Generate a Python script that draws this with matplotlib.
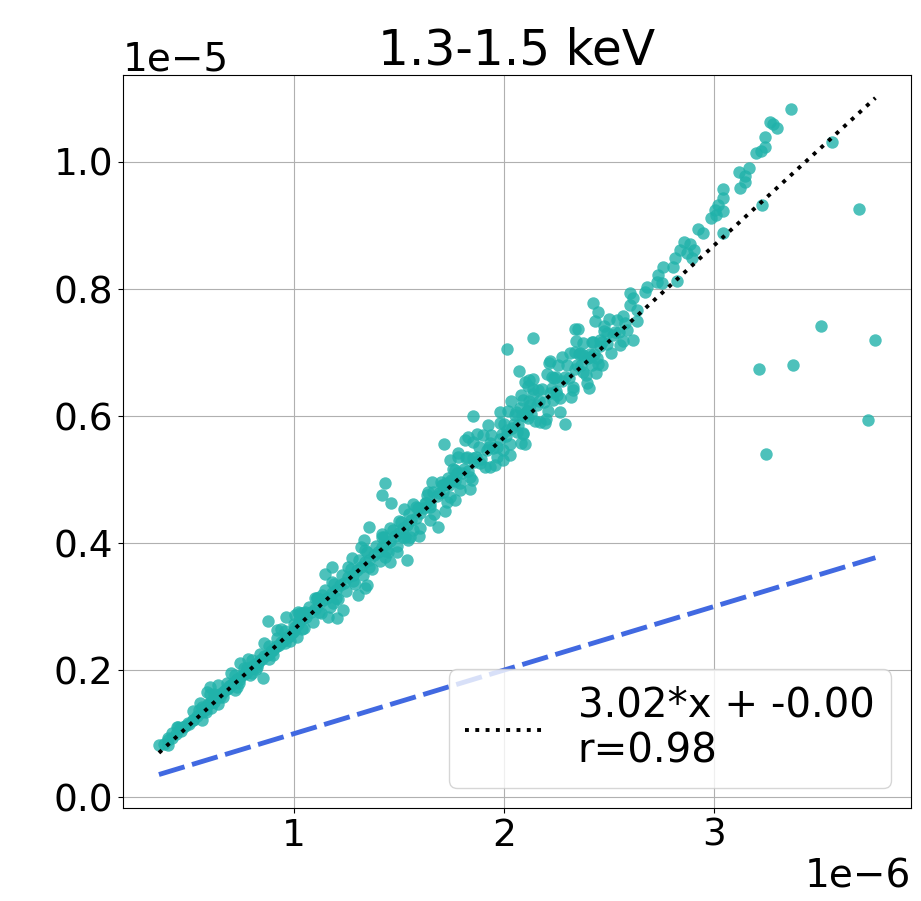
import matplotlib.pyplot as plt
import numpy as np

# values in units of 1e-6 (x) and 1e-5 (y)
band_x = [
    0.38, 0.40, 0.42, 0.44, 0.46, 0.48, 0.50, 0.52, 0.54, 0.56, 0.57, 0.58, 0.59, 0.60,
    0.61, 0.62, 0.63, 0.64, 0.65, 0.66, 0.67, 0.68, 0.69, 0.70, 0.71, 0.72, 0.73, 0.74,
    0.75, 0.76, 0.77, 0.78, 0.79, 0.80, 0.81, 0.82, 0.83, 0.84, 0.85, 0.86, 0.87, 0.88,
    0.89, 0.90, 0.91, 0.92, 0.93, 0.94, 0.95, 0.96, 0.97, 0.98, 0.99, 1.00,
    0.45, 0.55, 0.62, 0.68, 0.72, 0.76, 0.80, 0.84, 0.88, 0.92, 0.96, 1.00,
    0.58, 0.66, 0.74, 0.82, 0.90, 0.98,
    0.52, 0.60, 0.64, 0.70, 0.78, 0.86, 0.94, 1.02, 1.10, 1.18, 1.26, 1.34, 1.42, 1.50, 1.58,
    0.56, 0.64, 0.72, 0.80, 0.88, 0.96, 1.04, 1.12, 1.20, 1.28, 1.36, 1.44, 1.52,
    1.02, 1.04, 1.06, 1.08, 1.10, 1.12, 1.14, 1.16, 1.18, 1.20, 1.22, 1.24, 1.26, 1.28,
    1.30, 1.32, 1.34, 1.36, 1.38, 1.40, 1.42, 1.44, 1.46, 1.48, 1.50, 1.52, 1.54, 1.56,
    1.58, 1.60,
    1.03, 1.07, 1.11, 1.15, 1.19, 1.23, 1.27, 1.31, 1.35, 1.39, 1.43, 1.47, 1.51, 1.55, 1.59,
    1.05, 1.09, 1.13, 1.17, 1.21, 1.25, 1.29, 1.33, 1.37, 1.41, 1.45, 1.49, 1.53, 1.57,
    1.62, 1.65, 1.68, 1.71, 1.74, 1.77, 1.80, 1.83, 1.86, 1.89, 1.92, 1.95, 1.98, 2.01,
    2.04, 2.07, 2.10, 2.13, 2.16, 2.19, 2.22, 2.25, 2.28, 2.31, 2.34, 2.37, 2.40, 2.43,
    2.46, 2.49, 2.52, 2.55, 2.58,
    1.64, 1.70, 1.76, 1.82, 1.88, 1.94, 2.00, 2.06, 2.12, 2.18, 2.24, 2.30, 2.36, 2.42, 2.48, 2.54,
    1.67, 1.73, 1.79, 1.85, 1.91, 1.97, 2.03, 2.09, 2.15, 2.21, 2.27, 2.33, 2.39, 2.45, 2.51, 2.57,
    1.66, 1.78, 1.90, 2.02, 2.14, 2.26, 2.38, 2.50,
    1.72, 1.84, 1.96, 2.08, 2.20, 2.32, 2.44,
    1.63, 1.69, 1.75, 1.81, 1.87, 1.93, 1.99, 2.05, 2.11, 2.17, 2.23, 2.29, 2.35, 2.41, 2.47, 2.53,
]
band_y = [
    0.084, 0.090, 0.094, 0.100, 0.104, 0.112, 0.116, 0.122, 0.128, 0.134, 0.140, 0.141, 0.146, 0.148,
    0.152, 0.150, 0.158, 0.160, 0.162, 0.166, 0.168, 0.170, 0.175, 0.176, 0.180, 0.182, 0.186, 0.185,
    0.191, 0.194, 0.196, 0.200, 0.202, 0.205, 0.208, 0.210, 0.212, 0.216, 0.218, 0.222, 0.224, 0.226,
    0.230, 0.232, 0.236, 0.238, 0.240, 0.244, 0.246, 0.250, 0.252, 0.256, 0.258, 0.262,
    0.110, 0.138, 0.162, 0.180, 0.192, 0.204, 0.216, 0.226, 0.238, 0.250, 0.262, 0.272,
    0.134, 0.158, 0.180, 0.202, 0.224, 0.246,
    0.136, 0.163, 0.177, 0.195, 0.217, 0.243, 0.265, 0.291, 0.313, 0.339, 0.363, 0.389, 0.409, 0.435, 0.457,
    0.122, 0.146, 0.168, 0.195, 0.217, 0.243, 0.265, 0.291, 0.313, 0.340, 0.362, 0.388, 0.410,
    0.272, 0.280, 0.284, 0.292, 0.296, 0.304, 0.310, 0.314, 0.322, 0.326, 0.334, 0.338, 0.346, 0.350,
    0.358, 0.362, 0.370, 0.374, 0.382, 0.386, 0.394, 0.398, 0.404, 0.412, 0.416, 0.424, 0.428, 0.436,
    0.440, 0.448,
    0.290, 0.300, 0.314, 0.326, 0.336, 0.350, 0.360, 0.374, 0.386, 0.396, 0.410, 0.420, 0.434, 0.446, 0.456,
    0.266, 0.276, 0.290, 0.300, 0.312, 0.324, 0.336, 0.350, 0.360, 0.372, 0.386, 0.396, 0.410, 0.420,
    0.455, 0.462, 0.474, 0.480, 0.492, 0.498, 0.510, 0.514, 0.528, 0.532, 0.546, 0.550, 0.564, 0.568,
    0.582, 0.586, 0.600, 0.604, 0.618, 0.622, 0.636, 0.640, 0.656, 0.660, 0.674, 0.680, 0.692, 0.698,
    0.710, 0.714, 0.728, 0.732, 0.746,
    0.480, 0.496, 0.516, 0.534, 0.552, 0.570, 0.588, 0.606, 0.624, 0.642, 0.660, 0.680, 0.698, 0.716, 0.734, 0.752,
    0.446, 0.464, 0.484, 0.500, 0.520, 0.536, 0.556, 0.572, 0.592, 0.608, 0.628, 0.646, 0.664, 0.682, 0.700, 0.718,
    0.497, 0.536, 0.570, 0.608, 0.642, 0.681, 0.715, 0.753,
    0.450, 0.485, 0.523, 0.557, 0.595, 0.630, 0.668,
    0.463, 0.479, 0.500, 0.516, 0.536, 0.552, 0.572, 0.588, 0.608, 0.624, 0.644, 0.661, 0.681, 0.697, 0.717, 0.733,
]

spread_x = [
    3.367, 3.271, 3.285, 3.300, 3.243, 3.243, 3.224, 3.200, 3.167, 3.119, 3.148, 3.152, 3.124,
    3.043, 3.043, 3.019, 3.005, 3.043, 2.990, 3.010, 2.924, 2.948, 3.043, 2.857, 2.886, 2.838,
    2.905, 2.871, 2.814, 2.895, 2.805, 2.757, 2.733, 2.729, 2.752, 2.824, 2.681, 2.671, 2.600,
    2.614, 2.600, 2.633, 2.424, 2.448, 2.567, 2.586, 2.614, 2.552, 2.633,
    2.433, 2.476, 2.338, 2.352, 2.490, 2.343, 2.424, 2.457, 2.138, 2.014, 2.314, 2.338, 2.362,
    2.376, 2.276, 2.410, 2.443, 2.467, 2.419, 2.219, 2.214, 2.071, 2.376, 2.205, 2.229, 2.248,
    2.100, 2.119, 2.138, 2.114, 2.162, 2.395, 2.405, 2.329, 2.252, 2.233, 2.138, 2.081, 2.033,
    2.090, 2.124, 2.267, 1.981, 1.852, 2.076, 2.110, 2.052, 2.086, 2.114, 2.171, 2.195, 2.290,
    1.924, 1.871, 1.829, 1.981, 2.014, 2.062, 2.090, 2.100, 1.714, 1.814, 1.852, 1.933, 1.967,
    1.995, 2.029, 1.995, 1.781, 1.824, 1.852, 1.743, 1.767, 1.733, 1.886, 1.933, 1.838, 1.710,
    1.790,
    1.433, 1.419, 1.462, 1.524, 1.567, 1.633, 1.662, 1.624, 1.648, 1.705, 1.729, 1.757, 1.776,
    1.743, 1.767, 1.357, 1.686, 1.648, 1.600, 1.595, 1.552, 1.543, 1.457, 1.419, 1.333, 1.319,
    1.538, 1.490, 1.457, 1.433, 1.276, 1.181, 1.148, 1.348, 1.338, 1.305, 1.205, 1.162, 1.233,
    1.186, 1.110, 1.133, 1.029, 1.005, 1.052,
    0.876, 0.962, 1.005, 1.043, 0.919, 0.967, 1.014, 0.852, 0.790, 0.743, 0.824, 0.776, 0.729,
    0.686, 0.648, 0.600, 0.586, 0.562, 0.552, 0.576, 0.605, 0.519, 0.495, 0.471, 0.443, 0.419,
    0.400, 0.400, 0.357, 0.457,
]
spread_y = [
    1.083, 1.063, 1.060, 1.054, 1.039, 1.024, 1.017, 1.014, 0.991, 0.984, 0.978, 0.969, 0.959,
    0.957, 0.943, 0.932, 0.924, 0.923, 0.912, 0.917, 0.894, 0.888, 0.888, 0.874, 0.871, 0.861,
    0.861, 0.857, 0.849, 0.849, 0.835, 0.835, 0.822, 0.811, 0.809, 0.813, 0.803, 0.795, 0.794,
    0.786, 0.775, 0.767, 0.778, 0.764, 0.757, 0.735, 0.720, 0.712, 0.750,
    0.750, 0.742, 0.737, 0.737, 0.731, 0.718, 0.717, 0.720, 0.723, 0.706, 0.699, 0.701, 0.699,
    0.696, 0.693, 0.693, 0.691, 0.680, 0.680, 0.687, 0.683, 0.671, 0.669, 0.666, 0.661, 0.661,
    0.654, 0.657, 0.658, 0.647, 0.641, 0.652, 0.644, 0.641, 0.633, 0.625, 0.635, 0.633, 0.624,
    0.625, 0.617, 0.606, 0.606, 0.600, 0.613, 0.608, 0.602, 0.602, 0.597, 0.591, 0.589, 0.587,
    0.586, 0.572, 0.567, 0.589, 0.578, 0.575, 0.573, 0.556, 0.556, 0.562, 0.559, 0.557, 0.551,
    0.546, 0.539, 0.531, 0.542, 0.535, 0.534, 0.531, 0.515, 0.502, 0.526, 0.520, 0.504, 0.491,
    0.494,
    0.494, 0.476, 0.463, 0.454, 0.461, 0.476, 0.480, 0.463, 0.457, 0.491, 0.494, 0.499, 0.510,
    0.472, 0.468, 0.425, 0.425, 0.436, 0.424, 0.411, 0.409, 0.405, 0.424, 0.414, 0.405, 0.394,
    0.373, 0.386, 0.370, 0.378, 0.376, 0.362, 0.351, 0.334, 0.329, 0.318, 0.282, 0.283, 0.294,
    0.306, 0.313, 0.318, 0.283, 0.268, 0.291,
    0.277, 0.283, 0.287, 0.290, 0.263, 0.252, 0.252, 0.187, 0.192, 0.211, 0.205, 0.203, 0.173,
    0.172, 0.157, 0.173, 0.165, 0.142, 0.148, 0.137, 0.140, 0.121, 0.117, 0.110, 0.110, 0.101,
    0.094, 0.082, 0.082, 0.109,
]

outlier_x = [3.695, 3.514, 3.771, 3.214, 3.376, 3.738, 3.248, 3.233, 3.562]
outlier_y = [0.926, 0.742, 0.720, 0.674, 0.680, 0.594, 0.540, 0.932, 1.031]

SLOPE = 3.02
INTERCEPT = -3.8e-7
R_VALUE = 0.98
TITLE = "1.3-1.5 keV"

TEAL = "#20B2AA"
BLUE = "#4169E1"

plt.rcParams.update({"font.size": 28})

x = np.array(band_x + spread_x + outlier_x) * 1e-6
y = np.array(band_y + spread_y + outlier_y) * 1e-5

fig = plt.figure(figsize=(9.21, 9.01), dpi=100)
ax = fig.add_axes([0.1336, 0.1032, 0.8554, 0.8136])

ax.scatter(x, y, s=80, color=TEAL, alpha=0.8, linewidths=0, zorder=2)

xx = np.linspace(x.min(), x.max(), 100)
ax.plot(xx, SLOPE * xx + INTERCEPT, color="black", linestyle=":", linewidth=2.8,
        label=f"{SLOPE:.2f}*x + {INTERCEPT:.2f}\nr={R_VALUE:.2f}", zorder=3)
ax.plot(xx, xx, color=BLUE, linestyle="--", linewidth=3.5, dashes=(5.5, 1.6), zorder=3)

ax.set_xlim(0.186e-6, 3.94e-6)
ax.set_ylim(-0.017e-5, 1.137e-5)
ax.set_yticks(np.arange(0, 1.01e-5, 0.2e-5))
ax.set_xticks([1e-6, 2e-6, 3e-6])
ax.tick_params(labelsize=27)
ax.grid(True, zorder=0)
ax.set_axisbelow(True)
ax.set_title(TITLE, fontsize=35)
ax.legend(loc="lower right", fontsize=29, handlelength=2)

fig.savefig("out.png", dpi=100)
